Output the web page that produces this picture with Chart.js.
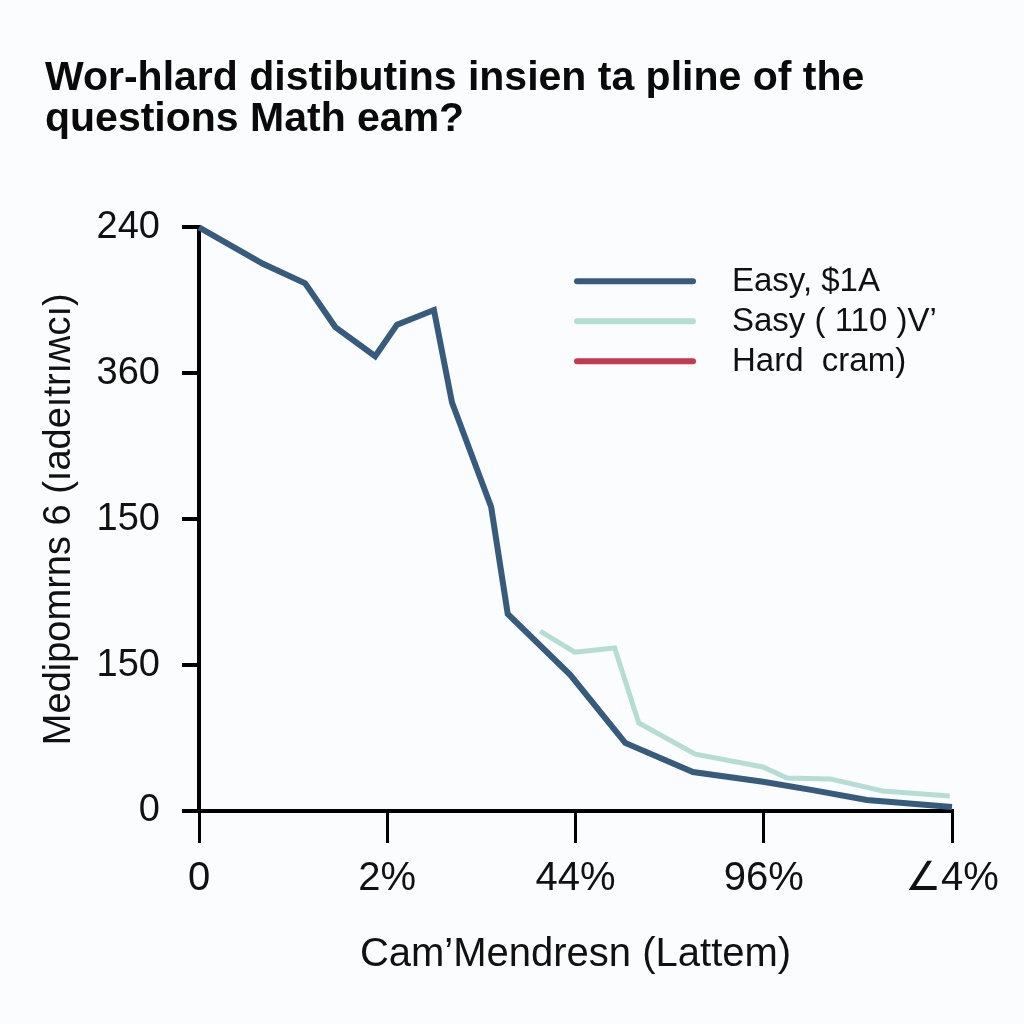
<!DOCTYPE html>
<html>
<head>
<meta charset="utf-8">
<script src="https://cdn.jsdelivr.net/npm/chart.js@4.4.1/dist/chart.umd.min.js"></script>
<style>
  html, body { margin: 0; padding: 0; background: #fbfcfd; }
  #wrap { width: 1024px; height: 1024px; }
</style>
</head>
<body>
<div id="wrap"><canvas id="c" width="1024" height="1024"></canvas></div>
<script>
// ---- data ----
const titleLines = ["Wor-hlard distibutins insien ta pline of the", "questions Math eam?"];
const xAxisTitle = "Cam\u2019Mendresn (Lattem)";
const yAxisTitle = "Medipomrns 6 (\u0131adeıtrıʍcı)";
const xTickLabels = ["0", "2%", "44%", "96%", "\u22204%"];
const yTickLabels = ["0", "150", "150", "360", "240"];
const seriesNames = ["Easy, $1A", "Sasy ( 110 )V\u2019", "Hard  cram)"];

const easyX = [0, 8.5, 14.1, 18.1, 23.4, 26.3, 31.2, 33.6, 38.8, 41.0, 49.3, 56.6, 65.6, 74.9, 81.5, 88.7, 100];
const easyY = [240, 225, 217, 199, 187, 200, 206, 168, 125, 81, 56, 28, 16, 12, 8.6, 4.5, 1.6];

const sasyX = [45.3, 49.9, 55.2, 58.4, 65.9, 74.9, 78.1, 83.8, 90.8, 99.7];
const sasyY = [74, 65.3, 67, 36.2, 23.4, 18.1, 13.6, 13.2, 8.2, 6.2];

const hardX = [];
const hardY = [];

const seriesColors = ["#375b7d", "#b5ddd4", "#c23a50"];

// ---- build ----
const toPts = (xs, ys) => xs.map((x, i) => ({ x: x, y: ys[i] }));
const FONT = "'Liberation Sans', Arial, 'DejaVu Sans', sans-serif";

const bgPlugin = {
  id: 'bg',
  beforeDraw(chart) {
    const ctx = chart.ctx;
    ctx.save();
    ctx.fillStyle = '#fbfcfd';
    ctx.fillRect(0, 0, chart.width, chart.height);
    ctx.restore();
  }
};

const legendPlugin = {
  id: 'customLegend',
  afterDatasetsDraw(chart) {
    const ctx = chart.ctx;
    const area = chart.chartArea;
    const x0 = area.left + 378, x1 = area.left + 494, tx = area.left + 533;
    const y0 = area.top + 54, gap = 40;
    ctx.save();
    chart.data.datasets.forEach((ds, i) => {
      const y = y0 + i * gap;
      ctx.strokeStyle = ds.borderColor;
      ctx.lineWidth = 6;
      ctx.lineCap = 'round';
      ctx.beginPath();
      ctx.moveTo(x0, y);
      ctx.lineTo(x1, y);
      ctx.stroke();
      ctx.fillStyle = '#111';
      ctx.font = "33px " + FONT;
      ctx.textAlign = 'left';
      ctx.textBaseline = 'middle';
      ctx.fillText(ds.label, tx, y + 1);
    });
    ctx.restore();
  }
};

new Chart(document.getElementById('c'), {
  type: 'line',
  data: {
    datasets: [
      { label: seriesNames[0], data: toPts(easyX, easyY), borderColor: seriesColors[0], borderWidth: 6, pointRadius: 0, tension: 0, clip: false, borderJoinStyle: 'miter' },
      { label: seriesNames[1], data: toPts(sasyX, sasyY), borderColor: seriesColors[1], borderWidth: 5, pointRadius: 0, tension: 0, clip: false },
      { label: seriesNames[2], data: toPts(hardX, hardY), borderColor: seriesColors[2], borderWidth: 5, pointRadius: 0, tension: 0, clip: false }
    ]
  },
  options: {
    responsive: false,
    animation: false,
    devicePixelRatio: 1,
    layout: { padding: { left: 45, right: 72, top: 0, bottom: 20 } },
    plugins: {
      legend: { display: false },
      tooltip: { enabled: false },
      title: {
        display: true,
        text: titleLines,
        align: 'start',
        color: '#0a0a0a',
        font: { family: FONT, size: 41, weight: 'bold', lineHeight: 0.98 },
        padding: { top: 59, bottom: 88 }
      }
    },
    scales: {
      x: {
        type: 'linear',
        min: 0, max: 100,
        afterFit(s) { s.height = 193; },
        afterBuildTicks(s) { s.ticks = xTickLabels.map((_, i) => ({ value: i * 25 })); },
        ticks: {
          autoSkip: false, maxRotation: 0, padding: 12, color: '#111',
          font: { family: FONT, size: 40 },
          callback: (v, i) => xTickLabels[i]
        },
        grid: { display: true, drawOnChartArea: false, drawTicks: true, tickLength: 32, color: '#000', lineWidth: 3 },
        border: { display: true, color: '#000', width: 4 },
        title: { display: true, text: xAxisTitle, color: '#111', font: { family: FONT, size: 40 }, padding: { top: 0, bottom: 25 } }
      },
      y: {
        type: 'linear',
        min: 0, max: 240,
        afterFit(s) { s.width = 154; },
        afterBuildTicks(s) { s.ticks = yTickLabels.map((_, i) => ({ value: i * 60 })); },
        ticks: {
          autoSkip: false, padding: 22, color: '#111',
          font: { family: FONT, size: 38 },
          callback: (v, i) => yTickLabels[i]
        },
        grid: { display: true, drawOnChartArea: false, drawTicks: true, tickLength: 17, color: '#000', lineWidth: 4 },
        border: { display: true, color: '#000', width: 4 },
        title: { display: true, text: yAxisTitle, color: '#111', font: { family: FONT, size: 38, lineHeight: 1.0 }, padding: { top: -4, bottom: 0 } }
      }
    }
  },
  plugins: [bgPlugin, legendPlugin]
});
</script>
</body>
</html>
